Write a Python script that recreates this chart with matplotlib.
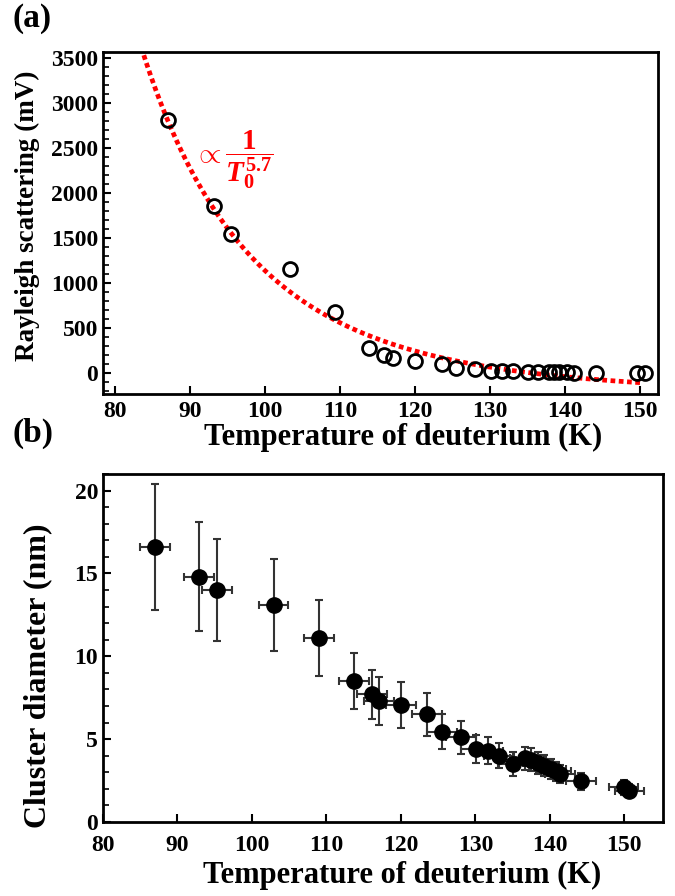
import numpy as np
import matplotlib
matplotlib.use("Agg")
import matplotlib.pyplot as plt
from matplotlib.ticker import MultipleLocator

plt.rcParams['font.family'] = 'Liberation Serif'
plt.rcParams['font.weight'] = 'bold'
plt.rcParams['mathtext.fontset'] = 'custom'
plt.rcParams['mathtext.rm'] = 'Liberation Serif:bold'
plt.rcParams['mathtext.it'] = 'Liberation Serif:bold:italic'
plt.rcParams['mathtext.bf'] = 'Liberation Serif:bold'

# -----------------------
# data, panel (a): Rayleigh scattering
# -----------------------
temp_a = [87.1, 93.2, 95.5, 103.3, 109.3, 113.9, 115.9, 117.0, 120.0, 123.6,
          125.5, 128.0, 130.1, 131.6, 133.1, 135.0, 136.4, 137.8, 138.5, 139.2,
          140.2, 141.2, 144.1, 149.6, 150.6]
rayleigh = [2807, 1862, 1544, 1162, 681, 278, 203, 167, 140, 103,
            55, 48, 25, 22, 22, 10, 10, 10, 10, 10,
            10, 5, 8, 5, 5]

# fitted curve  A*(T/100)^-5.7 + C  (parameters)
fit_exp = 5.7
fit_amp = 1381.0
fit_off = -241.0
fit_tmin, fit_tmax = 83.5, 150.0

# -----------------------
# data, panel (b): cluster diameter
# -----------------------
temp_b = [87.0, 92.9, 95.3, 102.9, 109.0, 113.7, 116.1, 117.1, 120.0, 123.5,
          125.5, 128.1, 130.1, 131.7, 133.2, 135.1, 136.7, 137.5, 138.4, 139.2,
          140.2, 140.8, 141.4, 144.2, 149.9, 150.7]
diam = [16.6, 14.8, 14.0, 13.1, 11.1, 8.5, 7.7, 7.3, 7.05, 6.5,
        5.45, 5.1, 4.4, 4.3, 4.0, 3.5, 3.85, 3.75, 3.55, 3.4,
        3.2, 3.05, 2.9, 2.45, 2.1, 1.9]
diam_err = [3.8, 3.3, 3.1, 2.8, 2.3, 1.7, 1.5, 1.45, 1.4, 1.3,
            1.05, 1.0, 0.85, 0.8, 0.75, 0.7, 0.7, 0.7, 0.65, 0.65,
            0.6, 0.6, 0.55, 0.5, 0.45, 0.4]
temp_err = 2.0

# -----------------------
# figure
# -----------------------
fig = plt.figure(figsize=(6.75, 8.96), dpi=100)
ax1 = fig.add_axes([103/675, 1-394/896, 555/675, (394-52)/896])
ax2 = fig.add_axes([103/675, 1-822/896, 560/675, (822-474)/896])

for ax in (ax1, ax2):
    for s in ax.spines.values():
        s.set_linewidth(2)
    ax.tick_params(axis='both', which='major', direction='in', length=6, width=1.5,
                   labelsize=17, top=False, right=False)
    ax.tick_params(axis='y', which='minor', direction='in', length=4, width=1.2,
                   right=False)
ax2.tick_params(axis='x', pad=9)
ax1.tick_params(axis='x', pad=5)

# panel (a)
tt = np.linspace(fit_tmin, fit_tmax, 300)
fit = fit_amp * (tt / 100.0) ** (-fit_exp) + fit_off
ax1.plot(tt, fit, color='#ff0000', lw=3.4, linestyle=(0, (1, 0.75)))
ax1.plot(temp_a, rayleigh, 'o', mfc='none', mec='black', mew=2, ms=10)
ax1.set_xlim(78.4, 152.4)
ax1.set_ylim(-230, 3567)
ax1.xaxis.set_major_locator(MultipleLocator(10))
ax1.yaxis.set_major_locator(MultipleLocator(500))
ax1.yaxis.set_minor_locator(MultipleLocator(100))
ax1.set_xlabel('Temperature of deuterium (K)', fontsize=22, fontweight='bold', labelpad=1)
ax1.xaxis.label.set_x(0.54)
ax1.set_ylabel('Rayleigh scattering (mV)', fontsize=19.5, fontweight='bold')
ax1.yaxis.set_label_coords(-0.113, 0.52)
ax1.text(90.6, 2370, r'$\propto\dfrac{1}{T_0^{5.7}}$', color='#ff0000', fontsize=21,
         va='center')

# panel (b)
ax2.errorbar(temp_b, diam, yerr=diam_err, xerr=temp_err, fmt='o', color='black',
             ms=11, ecolor='#333333', elinewidth=1.5, capsize=3, capthick=1.5)
ax2.set_xlim(80, 155.2)
ax2.set_ylim(0, 21)
ax2.xaxis.set_major_locator(MultipleLocator(10))
ax2.yaxis.set_major_locator(MultipleLocator(5))
ax2.yaxis.set_minor_locator(MultipleLocator(1))
ax2.set_xlabel('Temperature of deuterium (K)', fontsize=22, fontweight='bold', labelpad=4)
ax2.xaxis.label.set_x(0.535)
ax2.set_ylabel('Cluster diameter (nm)', fontsize=23, fontweight='bold')
ax2.yaxis.set_label_coords(-0.09, 0.42)

fig.text(12/675, 1-3/896, '(a)', fontsize=24, fontweight='bold', va='top')
fig.text(12/675, 1-418/896, '(b)', fontsize=24, fontweight='bold', va='top')

fig.savefig('out.png', dpi=100)
